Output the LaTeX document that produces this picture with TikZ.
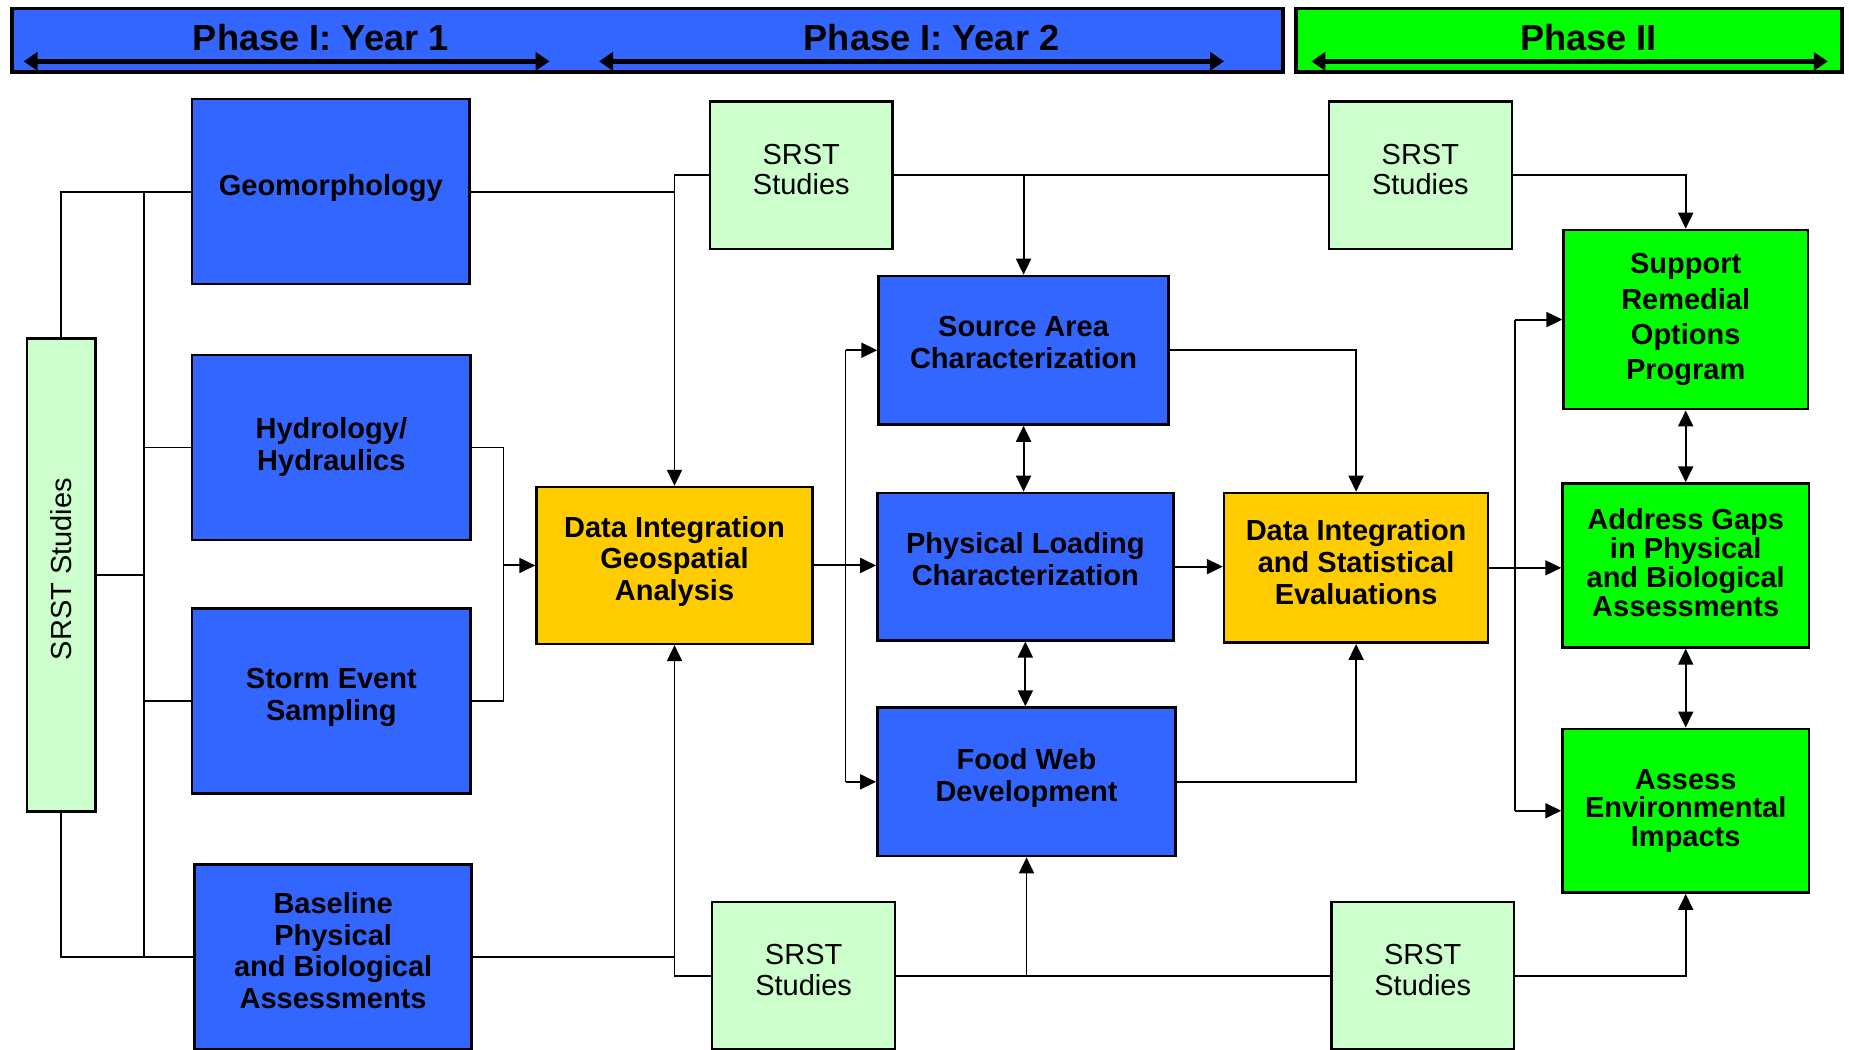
\documentclass[tikz,border=0pt]{standalone}
\usepackage{fontspec}
\setmainfont{Liberation Sans}
\usetikzlibrary{arrows.meta, calc}
\definecolor{phaseblue}{HTML}{3366FF}
\definecolor{phasegreen}{HTML}{00FF00}
\definecolor{evalyellow}{HTML}{FFCC00}
\definecolor{srstgreen}{HTML}{CCFFCC}
\def\px{0.01179cm}
\newlength\pxlen \setlength\pxlen{0.01179cm}

\begin{document}
\begin{tikzpicture}[x=\px, y=-\px,
    box/.style={draw, line width=0.7pt, align=center, inner sep=0pt,
                font=\bfseries\fontsize{8.25}{9.05}\selectfont},
    dims/.style 2 args={minimum width=#1*\px, minimum height=#2*\px},
    lift/.style={execute at end node={\rule[-#1\pxlen]{0pt}{0pt}}},
    drop/.style={execute at begin node={\rule{0pt}{#1\pxlen}}},
    work/.style={box, fill=phaseblue},
    synth/.style={box, fill=evalyellow},
    goal/.style={box, fill=phasegreen},
    srst/.style={box, fill=srstgreen, font=\fontsize{8.25}{8.7}\selectfont, dims={155}{125}, lift=10},
    link/.style={line width=0.55pt},
    flow/.style={link, -{Triangle[length=0.16cm, width=0.15cm]}},
    twoway/.style={link, {Triangle[length=0.16cm, width=0.15cm]}-{Triangle[length=0.16cm, width=0.15cm]}},
    phasebar/.style={draw, line width=1pt, inner sep=0pt},
    span/.style={line width=1.4pt, {Triangle[length=0.14cm, width=0.18cm]}-{Triangle[length=0.14cm, width=0.18cm]}},
    phase/.style={font=\bfseries\fontsize{10.3}{12}\selectfont}]
\useasboundingbox (0,0) rectangle (1568,890);
%
\node[phasebar, fill=phaseblue, dims={1078}{54}] (yrbar) at (549,34) {};
\node[phasebar, fill=phasegreen, dims={463}{54}] (phbar) at (1330.5,34) {};
\node[phase] (yr1) at (272,32) {Phase I: Year 1};
\node[phase] (yr2) at (790,32) {Phase I: Year 2};
\node[phase] (ph2) at (1347,32) {Phase II};
\coordinate (yr1a) at (20,52);   \coordinate (yr1b) at (466,52);
\coordinate (yr2a) at (508,52);  \coordinate (yr2b) at (1038,52);
\coordinate (ph2a) at (1112,52); \coordinate (ph2b) at (1550,52);
\draw[span] (yr1a) -- (yr1b);
\draw[span] (yr2a) -- (yr2b);
\draw[span] (ph2a) -- (ph2b);
%
\node[srst, dims={58}{401}, lift=0] (srstl) at (52,487.5) {\rotatebox{90}{SRST Studies}};
\node[work, dims={235}{157}, lift=11] (geo) at (280.5,162.5) {Geomorphology};
\node[work, dims={236}{157}, lift=6] (hyd) at (281,379.5) {Hydrology/\\Hydraulics};
\node[work, dims={236}{157}, lift=12] (storm) at (281,594.5) {Storm Event\\Sampling};
\node[work, dims={235}{157}, lift=11] (base) at (282.5,811.5) {Baseline\\Physical\\and Biological\\Assessments};
\node[synth, dims={234}{133}, lift=12] (dig) at (572,479.5) {Data Integration\\Geospatial\\Analysis};
\node[srst] (srst1) at (679.5,148.5) {SRST\\Studies};
\node[srst] (srst2) at (1204.5,148.5) {SRST\\Studies};
\node[srst] (srst3) at (681.5,827.5) {SRST\\Studies};
\node[srst] (srst4) at (1206.5,827.5) {SRST\\Studies};
\node[work, dims={246}{126}, lift=13] (src) at (868,297) {Source Area\\Characterization};
\node[work, dims={251}{125}, lift=13] (phys) at (869.5,480.5) {Physical Loading\\Characterization};
\node[work, dims={253}{126}, lift=12] (food) at (870.5,663) {Food Web\\Development};
\node[synth, dims={224}{127}, lift=10] (dis) at (1150,481.5) {Data Integration\\and Statistical\\Evaluations};
\node[goal, dims={207}{152}, drop=25, font=\bfseries\fontsize{8.25}{10}\selectfont] (sup) at (1429.5,271) {Support\\Remedial\\Options\\Program};
\node[goal, dims={209}{139}, lift=5, font=\bfseries\fontsize{8.25}{8.2}\selectfont] (gaps) at (1429.5,479.5) {Address Gaps\\in Physical\\and Biological\\Assessments};
\node[goal, dims={209}{139}, font=\bfseries\fontsize{8.25}{8.1}\selectfont] (impact) at (1429.5,687.5) {Assess\\Environmental\\Impacts};
%
\coordinate (lbus) at (122,0);
\coordinate (hbus) at (427,479.5);
\coordinate (mbus) at (717,0);
\coordinate (gbus) at (1285,0);
%
\draw[link] (srstl.north) |- (geo.west);
\draw[link] (srstl.south) |- (base.west);
\draw[link] (srstl.east) -- (srstl.east -| lbus);
\draw[link] (geo.west -| lbus) -- (base.west -| lbus);
\foreach \n in {hyd, storm} \draw[link] (\n.west) -- (\n.west -| lbus);
\draw[link] (hyd.east) -| (hbus) |- (storm.east);
\draw[flow] (hbus) -- (dig.west);
\draw[flow] (geo.east) -| (dig.north);
\draw[link] (srst1.west) -| (geo.east -| dig.north);
\draw[flow] (base.east) -| (dig.south);
\draw[link] (srst3.west) -| (base.east -| dig.south);
%
\draw[link] (srst1.east) -- (srst2.west);
\draw[flow] (srst1.east -| src.north) -- (src.north);
\draw[link] (srst3.east) -- (srst4.west);
\draw[flow] (srst3.east -| food.south) -- (food.south);
\draw[flow] (srst2.east) -| (sup.north);
\draw[flow] (srst4.east) -| (impact.south);
\draw[flow] (dig.east) -- (dig.east -| phys.west);
\draw[link] (mbus |- src.west) -- (mbus |- food.west);
\foreach \n in {src, food} \draw[flow] (mbus |- \n.west) -- (\n.west);
\draw[twoway] (src.south) -- (src.south |- phys.north);
\draw[twoway] (phys.south) -- (phys.south |- food.north);
\draw[flow] (src.east) -| (dis.north);
\draw[flow] (food.east) -| (dis.south);
\draw[flow] (phys.east) -- (phys.east -| dis.west);
%
\draw[flow] (dis.east) -- (dis.east -| gaps.west);
\draw[link] (gbus |- sup.west) -- (gbus |- impact.west);
\foreach \n in {sup, impact} \draw[flow] (gbus |- \n.west) -- (\n.west);
\draw[twoway] (sup.south) -- (gaps.north);
\draw[twoway] (gaps.south) -- (impact.north);
%
\end{tikzpicture}
\end{document}
